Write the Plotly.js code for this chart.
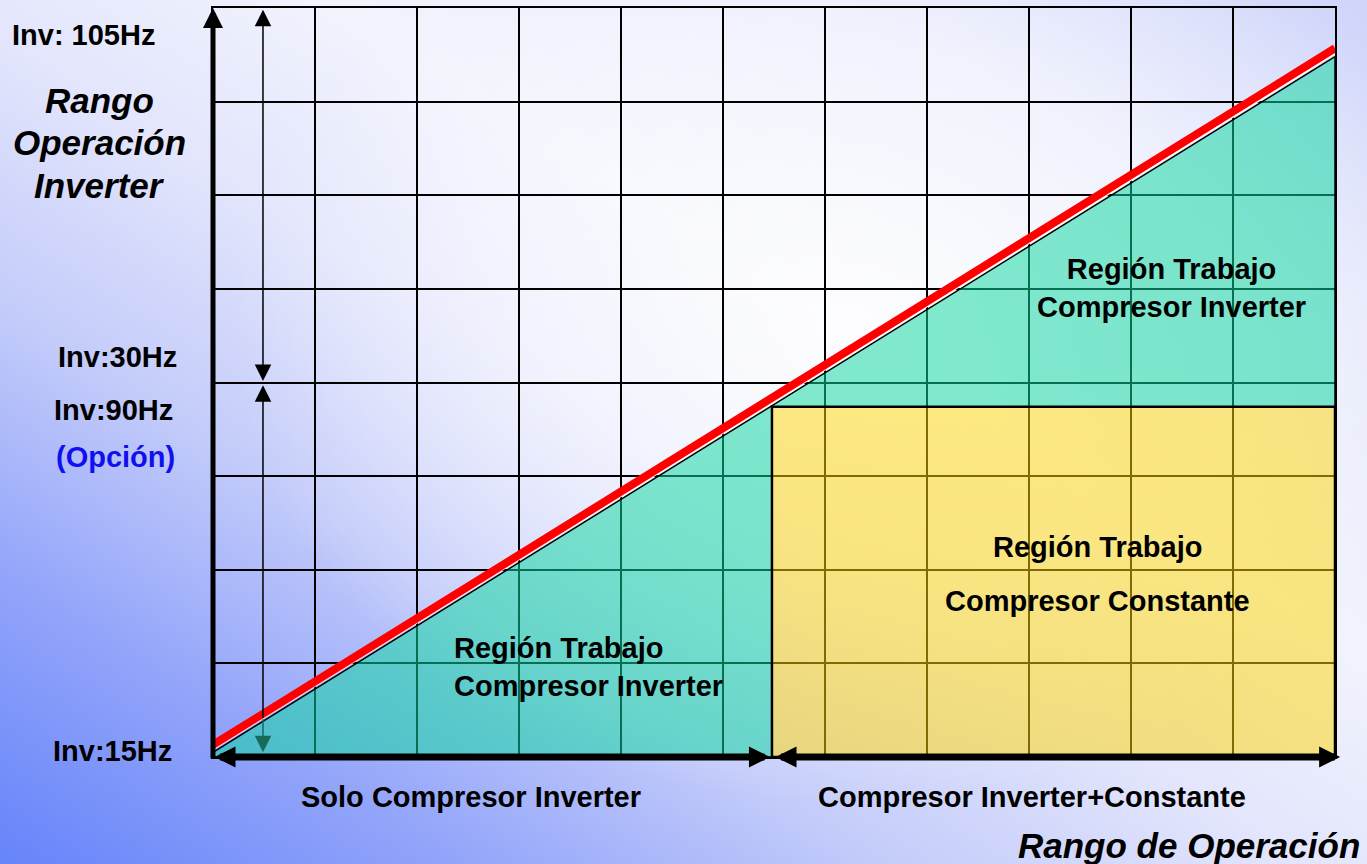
<!DOCTYPE html>
<html>
<head>
<meta charset="utf-8">
<script src="https://cdn.plot.ly/plotly-3.0.1.min.js"></script>
<style>
  html, body { margin: 0; padding: 0; }
  #chart {
    width: 1367px; height: 864px;
    background:
      radial-gradient(ellipse 45% 55% at 62% 38%, rgba(255,255,255,0.85) 0%, rgba(255,255,255,0.4) 60%, rgba(255,255,255,0) 100%),
      linear-gradient(to top right, #6684fa 0%, #93a5fa 17%, #c3cbfa 32%, #e3e6fc 48%, #f1f3fd 62%, #e6e9fc 82%, #cfd5fa 100%);
  }
</style>
</head>
<body>
<div id="chart"></div>
<script>
// ---- data (diagram units: x = operation range cells, y = frequency cells) ----
const xRange = [0, 11];
const yRange = [0, 8];
const diagX = [0, 11];                 // diagonal (inverter limit) ends
const redLineY = [0.13, 7.57];         // red limit line
const whiteLineY = [0.085, 7.515];     // thin white separator
const tealEdgeY = [0.05, 7.48];        // teal region upper edge
const splitX = 5.48;                   // start of constant compressor range
const constTopY = 3.74;                // constant compressor upper limit
const invArrowX = 0.49;                // inverter range arrow position
const invLevels = [8.0, 4.0, 0.05];    // 105Hz, 30/90Hz, 15Hz levels

const freqLabels = ['Inv: 105Hz', 'Inv:30Hz', 'Inv:90Hz', '(Opción)', 'Inv:15Hz'];
const freqLabelX = [-1.99, -0.333, -0.373, -0.353, -0.382];
const freqLabelY = [7.71, 4.27, 3.71, 3.205, 0.064];
const freqLabelAnchor = ['left', 'right', 'right', 'right', 'right'];
const freqLabelColor = ['#000', '#000', '#000', '#1010ee', '#000'];

const rangeLabels = ['Solo Compresor Inverter', 'Compresor Inverter+Constante'];
const rangeLabelX = [2.53, 8.03];
const rangeLabelY = [-0.427, -0.427];

const regionLabels = ['Región Trabajo<br>Compresor Inverter', 'Región Trabajo<br>Compresor Inverter', 'Región Trabajo', 'Compresor Constante'];
const regionLabelX = [2.343, 9.40, 8.676, 8.676];
const regionLabelY = [0.96, 5.005, 2.244, 1.667];
const regionLabelAnchor = ['left', 'center', 'center', 'center'];

const yTitleLines = ['Rango', 'Operación', 'Inverter'];
const yTitleX = -1.108;
const yTitleY = [7.009, 6.56, 6.10];
const xTitle = 'Rango de Operación';
const xTitlePos = [11.26, -0.94];

// ---- traces ----
const FONT = 'Liberation Sans, Arial, sans-serif';
const traces = [
  { // teal inverter region (excluding constant box)
    x: [diagX[0], diagX[1], diagX[1], splitX, splitX, diagX[0], diagX[0]],
    y: [tealEdgeY[0], tealEdgeY[1], constTopY, constTopY, 0, 0, tealEdgeY[0]],
    mode: 'lines', fill: 'toself',
    fillcolor: 'rgba(14,214,160,0.52)',
    line: { color: '#000', width: 1.5 },
    hoverinfo: 'skip'
  },
  { // constant compressor region
    x: [splitX, diagX[1], diagX[1], splitX, splitX],
    y: [0, 0, constTopY, constTopY, 0],
    mode: 'lines', fill: 'toself',
    fillcolor: 'rgba(255,214,5,0.5)',
    line: { color: '#000', width: 2.5 },
    hoverinfo: 'skip'
  },
  { x: diagX, y: whiteLineY, mode: 'lines', line: { color: '#fff', width: 2 }, hoverinfo: 'skip' },
  { x: diagX, y: redLineY, mode: 'lines', line: { color: '#ff0000', width: 8 }, hoverinfo: 'skip' }
];

// ---- annotations ----
const ann = [];
function arrow(x, y, ax, ay, opts) {
  ann.push(Object.assign({
    x: x, y: y, ax: ax, ay: ay, xref: 'x', yref: 'y', axref: 'x', ayref: 'y',
    text: '', showarrow: true, arrowhead: 2, arrowcolor: '#000',
    standoff: 0, startstandoff: 0
  }, opts));
}
// left axis
arrow(0, yRange[1], 0, -0.03, { arrowwidth: 5, arrowsize: 0.8 });
// bottom axis double arrows
arrow(splitX - 0.02, 0, 0, 0, { arrowwidth: 7, arrowsize: 0.6, arrowside: 'end+start' });
arrow(xRange[1] + 0.05, 0, splitX + 0.02, 0, { arrowwidth: 7, arrowsize: 0.6, arrowside: 'end+start' });
// inverter range arrows
arrow(invArrowX, invLevels[0] - 0.02, invArrowX, invLevels[1], { arrowwidth: 1.5, arrowsize: 2.2, arrowside: 'end+start' });
arrow(invArrowX, invLevels[1] - 0.03, invArrowX, 0.4, { arrowwidth: 1.5, arrowsize: 2.2 });
arrow(invArrowX, invLevels[2], invArrowX, 0.42, { arrowwidth: 1.5, arrowsize: 2.2, arrowcolor: '#17695a' });

// labels positioned in diagram units, converted to paper fractions so they may sit outside the grid
function label(text, x, y, size, anchor, color) {
  ann.push({
    x: x / xRange[1], y: y / yRange[1], xref: 'paper', yref: 'paper', text: text, showarrow: false,
    xanchor: anchor, yanchor: 'middle', align: anchor === 'center' ? 'center' : anchor,
    font: { family: FONT, size: size, color: color }
  });
}
freqLabels.forEach((t, i) => label('<b>' + t + '</b>', freqLabelX[i], freqLabelY[i], 29, freqLabelAnchor[i], freqLabelColor[i]));
rangeLabels.forEach((t, i) => label('<b>' + t + '</b>', rangeLabelX[i], rangeLabelY[i], 29, 'center', '#000'));
regionLabels.forEach((t, i) => label('<b>' + t + '</b>', regionLabelX[i], regionLabelY[i], 29, regionLabelAnchor[i], '#000'));
yTitleLines.forEach((t, i) => label('<b><i>' + t + '</i></b>', yTitleX, yTitleY[i], 35, 'center', '#000'));
label('<b><i>' + xTitle + '</i></b>', xTitlePos[0], xTitlePos[1], 35, 'right', '#000');

const axisCommon = {
  showgrid: true, gridcolor: '#000', gridwidth: 2, dtick: 1, tick0: 0,
  showticklabels: false, ticks: '', zeroline: false,
  showline: true, mirror: true, linecolor: '#000', linewidth: 2,
  fixedrange: true
};

const layout = {
  width: 1367, height: 864,
  margin: { l: 213, r: 32, t: 8, b: 107, pad: 0 },
  paper_bgcolor: 'rgba(0,0,0,0)', plot_bgcolor: 'rgba(0,0,0,0)',
  showlegend: false,
  xaxis: Object.assign({ range: xRange }, axisCommon),
  yaxis: Object.assign({ range: yRange }, axisCommon),
  annotations: ann
};

Plotly.newPlot('chart', traces, layout, { displayModeBar: false, staticPlot: true });
</script>
</body>
</html>
